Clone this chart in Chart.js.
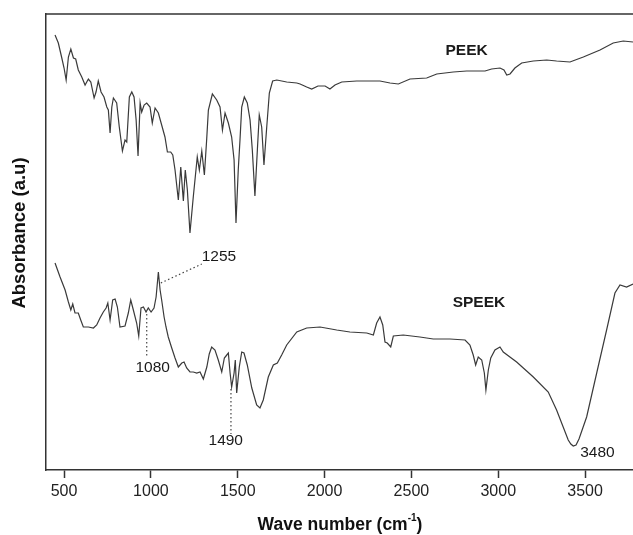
<!DOCTYPE html>
<html>
<head>
<meta charset="utf-8">
<script src="https://cdn.jsdelivr.net/npm/chart.js@4.4.1/dist/chart.umd.min.js"></script>
<style>
  html, body { margin: 0; padding: 0; background: #fff; }
  #wrap { width: 633px; height: 535px; position: relative; }
</style>
</head>
<body>
<div id="wrap"><canvas id="ftir"></canvas></div>
<script>
// FTIR spectra, wave number (cm-1) vs absorbance (arbitrary units, offset traces)
const peekWave = [448, 467, 487, 500, 512, 525, 539, 554, 567, 582, 602, 621, 640, 654, 673, 684, 697, 713, 730, 746,
  755, 765, 775, 784, 803, 818, 836, 851, 861, 876, 890, 903, 915, 926, 938, 947, 961, 976, 995, 1008,
  1024, 1043, 1062, 1081, 1095, 1114, 1126, 1139, 1158, 1172, 1187, 1198, 1210, 1225, 1244, 1267, 1279, 1293, 1308, 1321,
  1331, 1354, 1379, 1398, 1412, 1427, 1446, 1465, 1479, 1490, 1503, 1513, 1523, 1538, 1555, 1571, 1584, 1599, 1613, 1624,
  1638, 1651, 1667, 1682, 1701, 1725, 1782, 1840, 1859, 1897, 1926, 1962, 2003, 2031, 2060, 2099, 2185, 2319, 2377, 2425,
  2492, 2588, 2646, 2741, 2818, 2924, 2962, 3010, 3033, 3049, 3068, 3096, 3135, 3202, 3279, 3336, 3413, 3490, 3586, 3662,
  3720, 3776];
const peekAbs = [4.35, 4.27, 4.12, 4.02, 3.90, 4.13, 4.21, 4.12, 4.11, 4.00, 3.93, 3.85, 3.91, 3.88, 3.72, 3.78, 3.89, 3.78, 3.73, 3.63,
  3.60, 3.37, 3.63, 3.72, 3.67, 3.43, 3.19, 3.30, 3.28, 3.73, 3.78, 3.73, 3.50, 3.14, 3.67, 3.58, 3.65, 3.67, 3.63, 3.47,
  3.62, 3.57, 3.45, 3.33, 3.18, 3.18, 3.15, 3.00, 2.70, 3.03, 2.69, 3.00, 2.80, 2.37, 2.73, 3.13, 3.00, 3.19, 2.95, 3.30,
  3.60, 3.76, 3.70, 3.63, 3.40, 3.57, 3.47, 3.33, 3.10, 2.47, 3.00, 3.30, 3.63, 3.73, 3.67, 3.50, 3.20, 2.74, 3.20, 3.55,
  3.43, 3.05, 3.43, 3.77, 3.89, 3.90, 3.88, 3.87, 3.86, 3.83, 3.81, 3.84, 3.84, 3.81, 3.85, 3.88, 3.89, 3.89, 3.87, 3.86,
  3.91, 3.92, 3.96, 3.98, 3.99, 3.99, 4.01, 4.02, 4.00, 3.95, 3.96, 4.02, 4.07, 4.09, 4.10, 4.09, 4.08, 4.13, 4.20, 4.27,
  4.29, 4.28];

const speekWave = [448, 477, 506, 525, 539, 550, 563, 582, 596, 611, 640, 669, 688, 707, 726, 742, 752, 765, 780, 794,
  807, 822, 851, 870, 884, 899, 918, 930, 943, 957, 972, 985, 1001, 1018, 1030, 1043, 1053, 1062, 1076, 1087,
  1100, 1120, 1139, 1158, 1178, 1191, 1206, 1225, 1244, 1264, 1283, 1302, 1322, 1336, 1350, 1369, 1388, 1408, 1423, 1437,
  1446, 1456, 1465, 1479, 1486, 1494, 1509, 1523, 1536, 1555, 1581, 1609, 1628, 1647, 1676, 1705, 1728, 1753, 1782, 1840,
  1897, 1974, 2070, 2146, 2243, 2281, 2300, 2319, 2335, 2348, 2361, 2381, 2396, 2453, 2549, 2626, 2722, 2809, 2837, 2856,
  2870, 2885, 2905, 2920, 2929, 2943, 2957, 2981, 3010, 3029, 3106, 3202, 3288, 3336, 3374, 3403, 3418, 3432, 3448, 3465, 3509, 3567,
  3624, 3672, 3701, 3739, 3776];
const speekAbs = [2.07, 1.93, 1.80, 1.68, 1.60, 1.66, 1.57, 1.57, 1.50, 1.43, 1.43, 1.42, 1.45, 1.52, 1.58, 1.62, 1.67, 1.50, 1.70, 1.71,
  1.63, 1.43, 1.44, 1.57, 1.70, 1.60, 1.47, 1.34, 1.62, 1.63, 1.58, 1.62, 1.58, 1.62, 1.73, 1.98, 1.80, 1.70, 1.53, 1.43,
  1.33, 1.22, 1.12, 1.03, 1.07, 1.08, 1.02, 0.98, 0.98, 0.97, 0.98, 0.91, 1.03, 1.16, 1.23, 1.20, 1.10, 0.98, 1.12, 1.15,
  1.17, 0.97, 0.83, 0.97, 1.10, 0.77, 1.03, 1.18, 1.17, 1.05, 0.82, 0.65, 0.62, 0.70, 0.93, 1.05, 1.07, 1.15, 1.25, 1.38,
  1.42, 1.43, 1.40, 1.38, 1.37, 1.35, 1.47, 1.53, 1.45, 1.28, 1.27, 1.23, 1.34, 1.35, 1.33, 1.31, 1.31, 1.30, 1.25, 1.15,
  1.05, 1.13, 1.10, 0.97, 0.80, 1.00, 1.12, 1.20, 1.23, 1.18, 1.08, 0.93, 0.78, 0.60, 0.43, 0.30, 0.26, 0.24, 0.25, 0.31, 0.53, 0.97,
  1.40, 1.77, 1.85, 1.83, 1.86];

const xTicks = [500, 1000, 1500, 2000, 2500, 3000, 3500];

// peak markers: label, dotted leader from -> to, label anchor (data units)
const peakLabels = ['1255', '1080', '1490', '3480'];
const peakLeaders = [[[1057, 1.87], [1293, 2.06]], [[976, 1.56], [976, 1.12]], [[1461, 0.81], [1461, 0.36]], null];
const peakTextAt = [[1392, 2.13], [1010, 1.025], [1431, 0.29], [3571, 0.17]];

const traceNames = ['PEEK', 'SPEEK'];
const traceNameAt = [[2818, 4.19], [2889, 1.67]];

const FONT = '"Liberation Sans", Arial, sans-serif';
const LINE = '#3a3a3a';

const toXY = (xs, ys) => xs.map((x, i) => ({ x: x, y: ys[i] }));

const decor = {
  id: 'decor',
  afterDraw(chart) {
    const ctx = chart.ctx;
    const a = chart.chartArea;
    const sx = chart.scales.x, sy = chart.scales.y;
    ctx.save();

    // top frame line
    ctx.strokeStyle = '#333';
    ctx.lineWidth = 1.5;
    ctx.beginPath();
    ctx.moveTo(a.left, a.top);
    ctx.lineTo(a.right, a.top);
    ctx.stroke();

    // dotted leaders
    ctx.strokeStyle = '#444';
    ctx.lineWidth = 1.2;
    ctx.setLineDash([1.5, 2.5]);
    peakLeaders.forEach(seg => {
      if (!seg) return;
      ctx.beginPath();
      ctx.moveTo(sx.getPixelForValue(seg[0][0]), sy.getPixelForValue(seg[0][1]));
      ctx.lineTo(sx.getPixelForValue(seg[1][0]), sy.getPixelForValue(seg[1][1]));
      ctx.stroke();
    });
    ctx.setLineDash([]);

    ctx.fillStyle = '#1a1a1a';
    ctx.textAlign = 'center';
    ctx.textBaseline = 'middle';
    ctx.font = '15.5px ' + FONT;
    peakLabels.forEach((t, i) => {
      ctx.fillText(t, sx.getPixelForValue(peakTextAt[i][0]), sy.getPixelForValue(peakTextAt[i][1]));
    });

    ctx.font = 'bold 15.5px ' + FONT;
    traceNames.forEach((t, i) => {
      ctx.fillText(t, sx.getPixelForValue(traceNameAt[i][0]), sy.getPixelForValue(traceNameAt[i][1]));
    });

    // axis titles
    ctx.fillStyle = '#111';
    const p1 = 'Wave number (cm', sup = '-1', p2 = ')';
    ctx.font = 'bold 17.5px ' + FONT;
    const w1 = ctx.measureText(p1).width, w3 = ctx.measureText(p2).width;
    ctx.font = 'bold 10px ' + FONT;
    const w2 = ctx.measureText(sup).width;
    const ty = 525;
    let tx = 340 - (w1 + w2 + w3) / 2;
    ctx.textAlign = 'left';
    ctx.font = 'bold 17.5px ' + FONT;
    ctx.fillText(p1, tx, ty);
    ctx.font = 'bold 10px ' + FONT;
    ctx.fillText(sup, tx + w1, ty - 7);
    ctx.font = 'bold 17.5px ' + FONT;
    ctx.fillText(p2, tx + w1 + w2, ty);

    ctx.translate(20, 233);
    ctx.rotate(-Math.PI / 2);
    ctx.textAlign = 'center';
    ctx.font = 'bold 18.5px ' + FONT;
    ctx.fillText('Absorbance (a.u)', 0, 0);
    ctx.restore();
  }
};

new Chart(document.getElementById('ftir'), {
  type: 'line',
  data: {
    datasets: [
      { label: traceNames[0], data: toXY(peekWave, peekAbs) },
      { label: traceNames[1], data: toXY(speekWave, speekAbs) }
    ]
  },
  options: {
    responsive: true,
    maintainAspectRatio: false,
    animation: false,
    layout: { padding: { top: 14, left: 0, right: 0, bottom: 0 } },
    elements: {
      line: { borderColor: LINE, borderWidth: 1.2, tension: 0 },
      point: { radius: 0 }
    },
    plugins: { legend: { display: false }, tooltip: { enabled: false } },
    scales: {
      x: {
        type: 'linear',
        min: 396,
        max: 3776,
        afterFit: s => { s.height = 65; },
        afterBuildTicks: s => { s.ticks = xTicks.map(v => ({ value: v })); },
        grid: { drawOnChartArea: false, drawTicks: true, tickLength: 8, tickColor: '#333', tickWidth: 1.5 },
        border: { display: true, color: '#333', width: 1.5 },
        ticks: {
          color: '#222', padding: 4, font: { family: FONT, size: 16 }, maxRotation: 0,
          callback: v => String(v)
        }
      },
      y: {
        min: 0,
        max: 4.56,
        afterFit: s => { s.width = 46; },
        grid: { drawOnChartArea: false, drawTicks: false },
        border: { display: true, color: '#333', width: 1.5 },
        ticks: { display: false }
      }
    }
  },
  plugins: [decor]
});
</script>
</body>
</html>
